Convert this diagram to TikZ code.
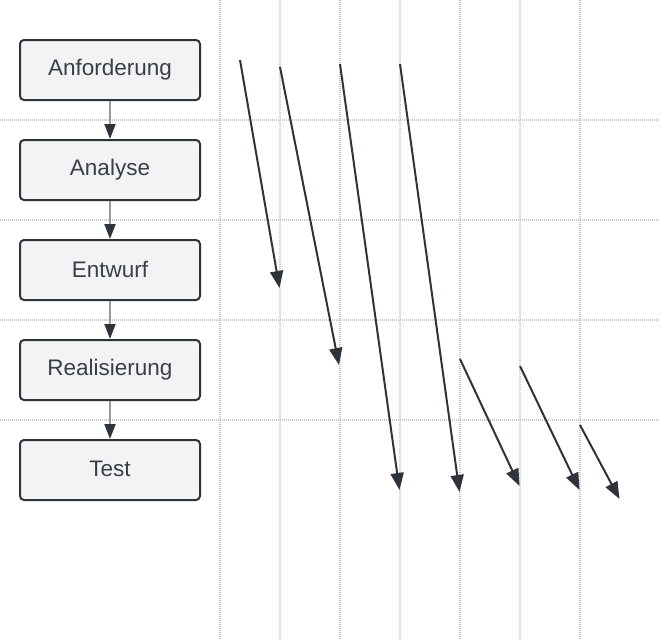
\documentclass[tikz,border=0pt]{standalone}
\usepackage{fontspec}
\setmainfont{Liberation Sans}
\usetikzlibrary{arrows.meta}
\definecolor{boxfill}{HTML}{F2F3F5}
\definecolor{dark}{HTML}{2F343B}
\definecolor{txt}{HTML}{3A3F47}
\definecolor{gridc}{HTML}{C8C8C8}
\definecolor{conn}{HTML}{9A9A9A}
\tikzset{
  phase/.style={draw=dark, fill=boxfill, line width=2pt, rounded corners=4pt,
    minimum width=180pt, minimum height=60pt, inner sep=0pt,
    text=txt, font=\fontsize{22.5}{26}\selectfont},
  gridline/.style={draw=gridc, line width=1.3pt, dash pattern=on 1pt off 1pt},
  flow/.style={draw=conn, line width=1.8pt, -{Triangle[length=15pt,width=11pt,fill=dark,color=dark]}},
  diag/.style={draw=dark, line width=2pt, -{Triangle[length=17pt,width=13pt]}}
}
\begin{document}
\begin{tikzpicture}[x=1pt,y=-1pt]
\useasboundingbox (0,0) rectangle (660,640);
\fill[white] (0,0) rectangle (660,640);
% grid
\foreach \x in {220,280,340,400,460,520,580} \draw[gridline] (\x,0) -- (\x,640);
\foreach \y in {120,220,320,420} \draw[gridline] (0,\y) -- (660,\y);
% boxes
\node[phase] (a) at (110,70) {\raisebox{2pt}{Anforderung}};
\node[phase] (b) at (110,170) {\raisebox{2pt}{Analyse}};
\node[phase] (c) at (110,270) {\raisebox{2pt}{Entwurf}};
\node[phase] (d) at (110,370) {\raisebox{2pt}{Realisierung}};
\node[phase] (e) at (110,470) {\raisebox{2pt}{Test}};
\draw[flow] (a) -- (b);
\draw[flow] (b) -- (c);
\draw[flow] (c) -- (d);
\draw[flow] (d) -- (e);
% diagonal arrows
\coordinate (s1) at (240,60);   \coordinate (t1) at (279.5,288);
\coordinate (s2) at (280,67);   \coordinate (t2) at (339,365);
\coordinate (s3) at (340,64);   \coordinate (t3) at (399.5,490);
\coordinate (s4) at (400,64);   \coordinate (t4) at (459.5,492);
\coordinate (s5) at (460,359);  \coordinate (t5) at (519.5,486);
\coordinate (s6) at (520,366);  \coordinate (t6) at (579.5,490);
\coordinate (s7) at (580,425);  \coordinate (t7) at (619.5,499);
\foreach \i in {1,...,7} \draw[diag] (s\i) -- (t\i);
\end{tikzpicture}
\end{document}
